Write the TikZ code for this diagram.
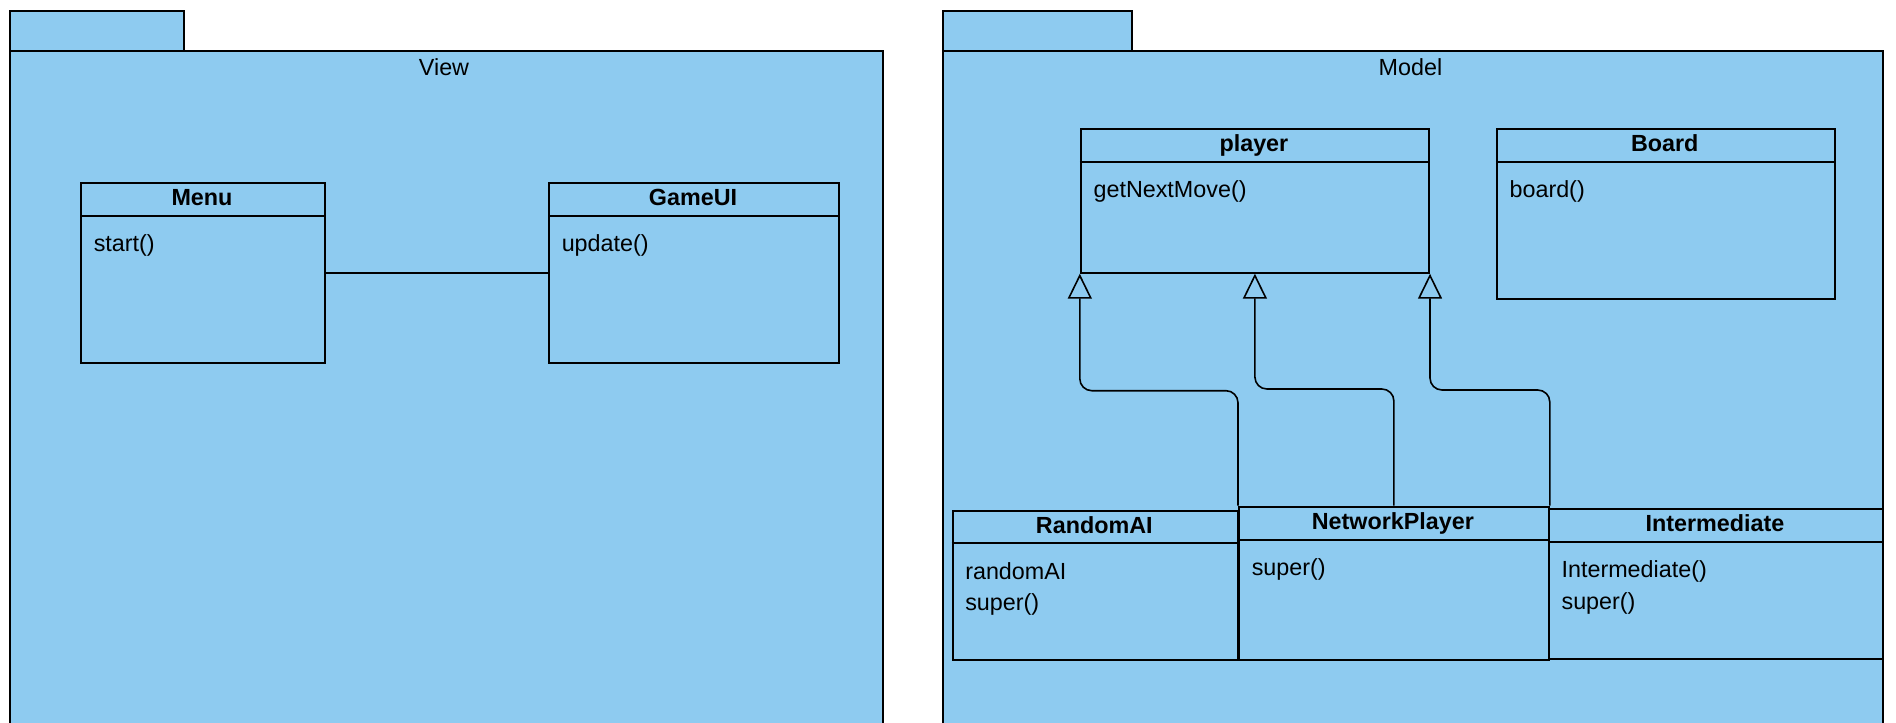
\documentclass[tikz,border=0pt]{standalone}
\usepackage{fontspec}
\setmainfont{Liberation Sans}
\usetikzlibrary{arrows.meta}
\definecolor{pkgblue}{RGB}{142,203,240}
\tikzset{
  pkg/.style={draw=black, line width=1.5pt, fill=pkgblue, inner sep=0pt, anchor=north west},
  cls/.style={draw=black, line width=1.5pt, fill=pkgblue, inner sep=0pt, anchor=north west},
  divider/.style={draw=black, line width=1.5pt},
  ttl/.style={anchor=base, inner sep=0pt, font=\bfseries\fontsize{17.5}{21}\selectfont},
  pkgttl/.style={inner sep=0pt, font=\fontsize{17.5}{21}\selectfont},
  itm/.style={anchor=base west, inner sep=0pt, font=\fontsize{17.5}{21}\selectfont},
  assoc/.style={draw=black, line width=1.5pt},
  inh/.style={draw=black, line width=1.2pt, rounded corners=9pt, -{Triangle[open, length=18.75pt, width=18pt]}},
}
\begin{document}
\begin{tikzpicture}[x=0.75pt, y=-0.75pt]
\path[use as bounding box, clip] (0,0) rectangle (1896,722);
\fill[white] (0,0) rectangle (1896,722);
% packages
\node[pkg, minimum width=174.1*0.75pt, minimum height=40*0.75pt] (viewtab) at (8.5,10) {};
\node[pkg, minimum width=873*0.75pt, minimum height=720*0.75pt] (view) at (8.5,50) {};
\node[pkgttl] (viewt) at (444,66.7) {View};
\node[pkg, minimum width=188.6*0.75pt, minimum height=40*0.75pt] (modeltab) at (942,10) {};
\node[pkg, minimum width=940*0.75pt, minimum height=720*0.75pt] (model) at (942,50) {};
\node[pkgttl] (modelt) at (1410.5,66.7) {Model};
% Menu
\node[cls, minimum width=244*0.75pt, minimum height=180*0.75pt] (menu) at (80,181.7) {};
\draw[divider] ([yshift=-34.3*0.75pt]menu.north west) -- ([yshift=-34.3*0.75pt]menu.north east);
\node[ttl] (menut) at (202,205) {Menu};
\node[itm] (menu1) at (93.5,251) {start()};
% GameUI
\node[cls, minimum width=290*0.75pt, minimum height=180*0.75pt] (gameui) at (548,181.7) {};
\draw[divider] ([yshift=-34.3*0.75pt]gameui.north west) -- ([yshift=-34.3*0.75pt]gameui.north east);
\node[ttl] (gameuit) at (693,205) {GameUI};
\node[itm] (gameui1) at (561.5,251) {update()};
\draw[assoc] (menu.east) -- (gameui.west);
% player
\node[cls, minimum width=348.2*0.75pt, minimum height=144*0.75pt] (player) at (1079.8,127.7) {};
\draw[divider] ([yshift=-34.3*0.75pt]player.north west) -- ([yshift=-34.3*0.75pt]player.north east);
\node[ttl] (playert) at (1253.9,151) {player};
\node[itm] (player1) at (1093.3,197.5) {getNextMove()};
% Board
\node[cls, minimum width=337.9*0.75pt, minimum height=170*0.75pt] (board) at (1495.8,127.7) {};
\draw[divider] ([yshift=-34.3*0.75pt]board.north west) -- ([yshift=-34.3*0.75pt]board.north east);
\node[ttl] (boardt) at (1664.7,151) {Board};
\node[itm] (board1) at (1509.3,197.5) {board()};
% RandomAI
\node[cls, minimum width=285.4*0.75pt, minimum height=149.6*0.75pt] (randomai) at (951.6,509.7) {};
\draw[divider] ([yshift=-33.6*0.75pt]randomai.north west) -- ([yshift=-33.6*0.75pt]randomai.north east);
\node[ttl] (randomait) at (1094.3,533) {RandomAI};
\node[itm] (randomai1) at (965,579) {randomAI};
\node[itm] (randomai2) at (965,610.7) {super()};
% NetworkPlayer
\node[cls, minimum width=309.8*0.75pt, minimum height=153.6*0.75pt] (np) at (1238,505.7) {};
\draw[divider] ([yshift=-34.3*0.75pt]np.north west) -- ([yshift=-34.3*0.75pt]np.north east);
\node[ttl] (npt) at (1392.9,529.2) {NetworkPlayer};
\node[itm] (np1) at (1251.5,575.5) {super()};
% Intermediate
\node[cls, minimum width=334.2*0.75pt, minimum height=150*0.75pt] (inter) at (1547.8,507.7) {};
\draw[divider] ([yshift=-34*0.75pt]inter.north west) -- ([yshift=-34*0.75pt]inter.north east);
\node[ttl] (intert) at (1714.9,531.2) {Intermediate};
\node[itm] (inter1) at (1561.3,577.2) {Intermediate()};
\node[itm] (inter2) at (1561.3,609) {super()};
% inheritance
\draw[inh] (np.north west) -- ++(0,-115) -| (player.south west);
\draw[inh] (np.north) -- ++(0,-116.7) -| (player.south);
\draw[inh] (np.north east) -- ++(0,-115.7) -| (player.south east);
\end{tikzpicture}
\end{document}
